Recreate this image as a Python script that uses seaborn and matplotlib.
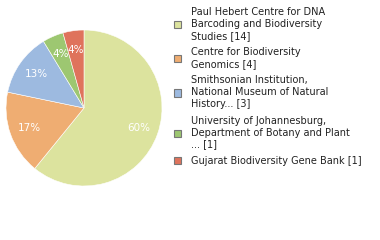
import matplotlib
matplotlib.use("Agg")
import matplotlib.pyplot as plt
import seaborn as sns
from matplotlib.patches import Patch

labels = [
    "Paul Hebert Centre for DNA\nBarcoding and Biodiversity\nStudies [14]",
    "Centre for Biodiversity\nGenomics [4]",
    "Smithsonian Institution,\nNational Museum of Natural\nHistory... [3]",
    "University of Johannesburg,\nDepartment of Botany and Plant\n... [1]",
    "Gujarat Biodiversity Gene Bank [1]",
]
values = [14, 4, 3, 1, 1]
colors = ["#dce39e", "#efad72", "#9dbae0", "#9dc771", "#df735c"]

sns.set_style("white")
plt.rcParams["font.family"] = ["DejaVu Sans"]

fig = plt.figure(figsize=(3.8, 2.4), dpi=100)
cx, cy, r = 84, 108, 78
ax = fig.add_axes([(cx - r) / 380, (240 - cy - r) / 240, 2 * r / 380, 2 * r / 240])

wedges, texts, autotexts = ax.pie(
    values, colors=colors, startangle=90, counterclock=False,
    autopct=lambda p: f"{int(p)}%", pctdistance=0.75,
    wedgeprops=dict(linewidth=0.4, edgecolor="white"),
    textprops=dict(color="white", fontsize=7.5),
)
ax.set_xlim(-1, 1)
ax.set_ylim(-1, 1)
ax.set_aspect("equal")
ax.axis("off")

handles = [Patch(facecolor=c, edgecolor="#777777", linewidth=0.8) for c in colors]
leg = fig.legend(
    handles, labels, loc="upper left", bbox_to_anchor=(174 / 380, 1 - 7 / 240),
    frameon=False, fontsize=7.05, handlelength=0.75, handleheight=0.75,
    handletextpad=0.95, labelspacing=0.65, borderaxespad=0, borderpad=0,
)
for t in leg.get_texts():
    t.set_color("#222222")
    t.set_linespacing(1.24)

fig.savefig("out.png", dpi=100)
